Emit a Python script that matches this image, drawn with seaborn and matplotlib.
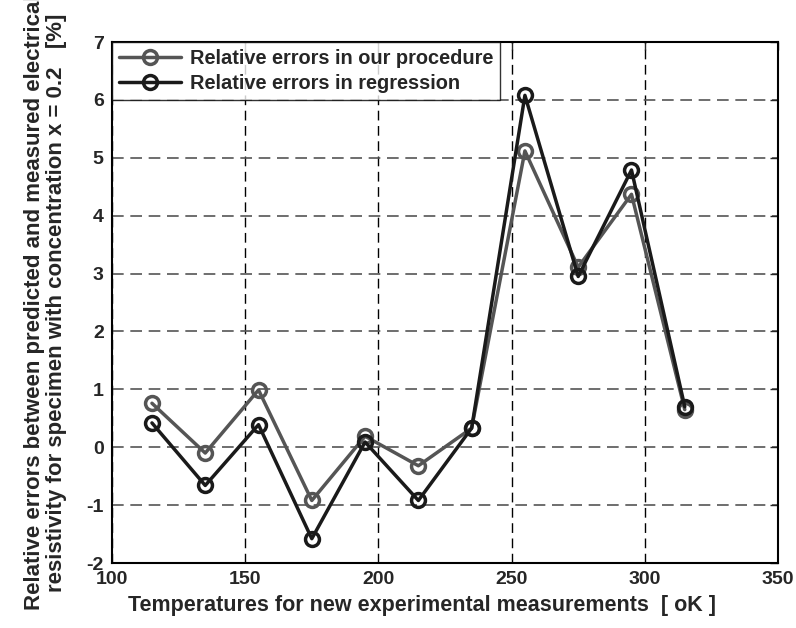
import matplotlib
matplotlib.use("Agg")
import matplotlib.pyplot as plt
import seaborn as sns
import pandas as pd

temperatures = [115, 135, 155, 175, 195, 215, 235, 255, 275, 295, 315]
err_procedure = [0.76, -0.10, 0.99, -0.92, 0.19, -0.32, 0.33, 5.12, 3.11, 4.37, 0.65]
err_regression = [0.42, -0.66, 0.39, -1.58, 0.09, -0.92, 0.33, 6.08, 2.95, 4.79, 0.70]
series_names = ["Relative errors in our procedure", "Relative errors in regression"]
x_ticks = [100, 150, 200, 250, 300, 350]
y_ticks = [-2, -1, 0, 1, 2, 3, 4, 5, 6, 7]

sns.set_style("white")
plt.rcParams["font.family"] = ["Liberation Sans", "DejaVu Sans"]
plt.rcParams["font.weight"] = "bold"
plt.rcParams["axes.unicode_minus"] = False

df = pd.DataFrame({
    "T": temperatures * 2,
    "err": err_procedure + err_regression,
    "series": [series_names[0]] * len(temperatures) + [series_names[1]] * len(temperatures),
})

fig = plt.figure(figsize=(7.96, 6.28), dpi=100)
ax = fig.add_axes([0.1407, 0.1035, 0.8367, 0.8295])

palette = {series_names[0]: "#555555", series_names[1]: "#1a1a1a"}
sns.lineplot(data=df, x="T", y="err", hue="series", palette=palette,
             marker="o", markersize=10, markerfacecolor="none",
             markeredgewidth=2.5, linewidth=2.5, ax=ax, legend=False)
for line, name in zip(ax.get_lines(), series_names):
    line.set_markeredgecolor(palette[name])
    line.set_label(name)

ax.set_xlim(100, 350)
ax.set_ylim(-2, 7)
ax.set_xticks(x_ticks)
ax.set_yticks(y_ticks)
ax.tick_params(direction="in", length=6, width=1, labelsize=14,
               top=True, right=True, pad=6)
for lbl in ax.get_xticklabels() + ax.get_yticklabels():
    lbl.set_fontweight("bold")

ax.xaxis.grid(True, linestyle=(0, (7, 4)), color="black", linewidth=1)
ax.yaxis.grid(True, linestyle=(0, (7, 4)), color="#555555", linewidth=1.2)
for s in ax.spines.values():
    s.set_visible(True)
    s.set_color("black")
    s.set_linewidth(1.5)

ax.set_xlabel("Temperatures for new experimental measurements  [ oK ]",
              fontsize=15.5, fontweight="bold", labelpad=8)
ax.xaxis.set_label_coords(0.465, -0.062)
ax.xaxis.label.set_va("top")
ax.set_ylabel("Relative errors between predicted and measured electrical\n"
              "resistivity for specimen with concentration x = 0.2   [%]",
              fontsize=16, fontweight="bold", labelpad=14, linespacing=1.05)

leg = ax.legend(loc="upper left", fontsize=14.4, frameon=True, fancybox=False,
                edgecolor="black", borderaxespad=0, handlelength=3.1,
                borderpad=0.35, labelspacing=0.3, handletextpad=0.45)
leg.get_frame().set_linewidth(1.0)
for t in leg.get_texts():
    t.set_fontweight("bold")

fig.savefig("out.png", dpi=100)
